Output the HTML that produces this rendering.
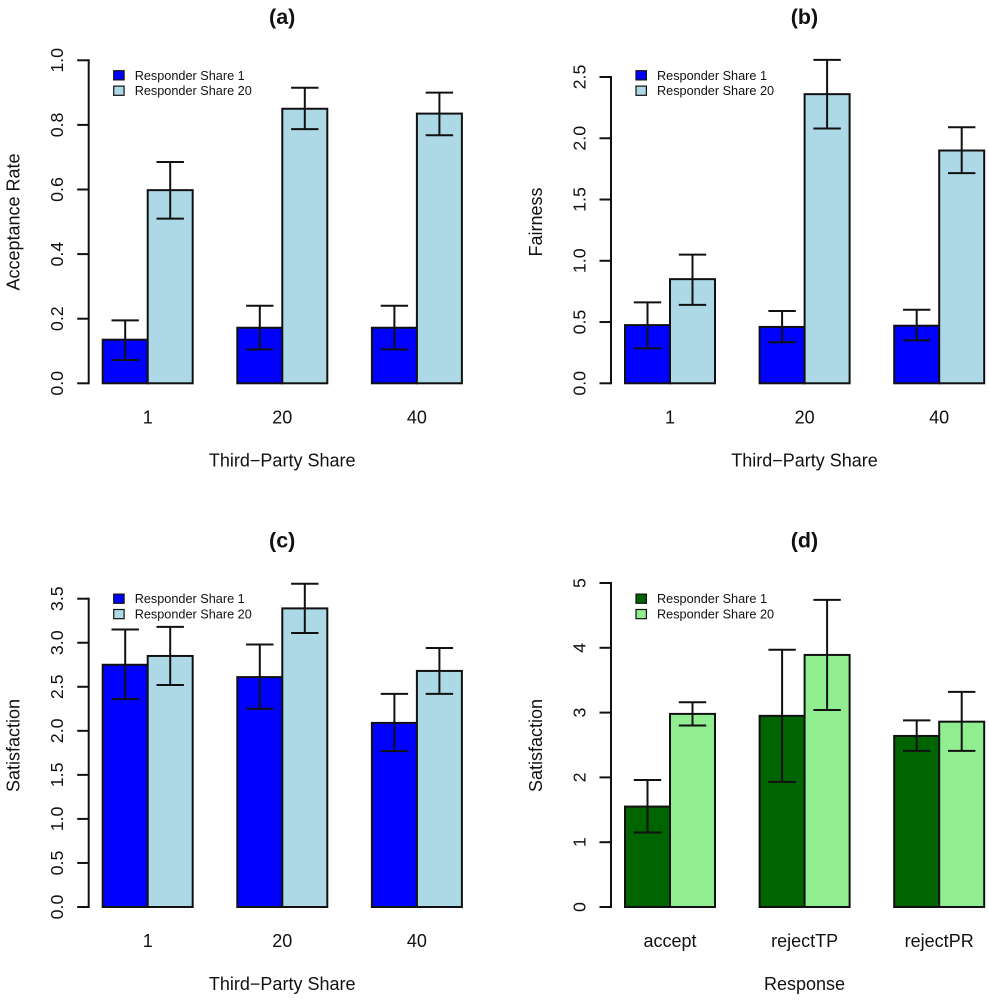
<!DOCTYPE html>
<html>
<head>
<meta charset="utf-8">
<title>Bar charts</title>
<style>
html,body{margin:0;padding:0;background:#fff;}
svg{display:block;}
text{font-family:"Liberation Sans",Arial,sans-serif;fill:#111;}
</style>
</head>
<body>
<svg id="chart" xmlns="http://www.w3.org/2000/svg" width="989" height="1000" viewBox="0 0 989 1000"></svg>
<script>
const thirdPartyCategories = ["1", "20", "40"];
const responseCategories = ["accept", "rejectTP", "rejectPR"];
const legendLabels = ["Responder Share 1", "Responder Share 20"];

const acceptShare1 = [0.135, 0.172, 0.172];
const acceptShare20 = [0.598, 0.85, 0.835];
const acceptShare1Low = [0.072, 0.105, 0.105];
const acceptShare1High = [0.195, 0.24, 0.24];
const acceptShare20Low = [0.51, 0.787, 0.768];
const acceptShare20High = [0.685, 0.915, 0.9];
const acceptTicks = ["0.0", "0.2", "0.4", "0.6", "0.8", "1.0"];

const fairShare1 = [0.475, 0.46, 0.47];
const fairShare20 = [0.85, 2.36, 1.9];
const fairShare1Low = [0.285, 0.335, 0.35];
const fairShare1High = [0.66, 0.59, 0.6];
const fairShare20Low = [0.64, 2.08, 1.715];
const fairShare20High = [1.05, 2.64, 2.09];
const fairTicks = ["0.0", "0.5", "1.0", "1.5", "2.0", "2.5"];

const satThirdShare1 = [2.75, 2.61, 2.09];
const satThirdShare20 = [2.85, 3.39, 2.68];
const satThirdShare1Low = [2.36, 2.25, 1.77];
const satThirdShare1High = [3.15, 2.98, 2.42];
const satThirdShare20Low = [2.52, 3.11, 2.42];
const satThirdShare20High = [3.18, 3.67, 2.94];
const satThirdTicks = ["0.0", "0.5", "1.0", "1.5", "2.0", "2.5", "3.0", "3.5"];

const satRespShare1 = [1.55, 2.95, 2.64];
const satRespShare20 = [2.98, 3.89, 2.86];
const satRespShare1Low = [1.15, 1.93, 2.41];
const satRespShare1High = [1.96, 3.97, 2.88];
const satRespShare20Low = [2.8, 3.04, 2.41];
const satRespShare20High = [3.16, 4.74, 3.32];
const satRespTicks = ["0", "1", "2", "3", "4", "5"];

const svg = document.getElementById('chart');
const NS = 'http://www.w3.org/2000/svg';
const INK = '#111';

function add(parent, tag, attrs) {
  const el = document.createElementNS(NS, tag);
  for (const k in attrs) el.setAttribute(k, attrs[k]);
  parent.appendChild(el);
  return el;
}

function label(parent, str, x, y, size, opts) {
  const o = opts || {};
  const t = add(parent, 'text', {
    x: x, y: y, 'font-size': size,
    'text-anchor': o.anchor || 'middle',
    'font-weight': o.bold ? 'bold' : 'normal'
  });
  if (o.rotate) t.setAttribute('transform', 'rotate(-90 ' + x + ' ' + y + ')');
  t.textContent = str;
  return t;
}

function drawPanel(p) {
  const g = add(svg, 'g', {});
  
  

  const tickValues = p.ticks.map(Number);
  const yMax = tickValues[tickValues.length - 1];
  const yScale = v => p.y0 - (v / yMax) * (p.y0 - p.yTop);
  const barW = 45;
  const groupStep = 134.6;
  const groupX = i => p.x0 + 14 + i * groupStep;
  const center = i => groupX(i) + barW;

  const title = label(g, '(' + p.id + ')', p.x0 + 193.5, p.y0 - 359.5, 21.5, {bold: true});
  
  

  // bars
  [p.s1, p.s2].forEach((series, s) => {
    series.forEach((v, i) => {
      const r = add(g, 'rect', {
        x: groupX(i) + s * barW, y: yScale(v), width: barW, height: p.y0 - yScale(v),
        fill: p.colors[s], stroke: INK, 'stroke-width': 2
      });
      
      
    });
  });

  // error bars
  [[p.s1Low, p.s1High], [p.s2Low, p.s2High]].forEach((pair, s) => {
    pair[0].forEach((lo, i) => {
      const hi = pair[1][i];
      const cx = groupX(i) + s * barW + barW / 2;
      const eg = add(g, 'g', {stroke: INK, 'stroke-width': 2, fill: 'none'});
      
      
      add(eg, 'line', {x1: cx, x2: cx, y1: yScale(lo), y2: yScale(hi)});
      add(eg, 'line', {x1: cx - 13.7, x2: cx + 13.7, y1: yScale(lo), y2: yScale(lo)});
      add(eg, 'line', {x1: cx - 13.7, x2: cx + 13.7, y1: yScale(hi), y2: yScale(hi)});
    });
  });

  // y axis
  const axis = add(g, 'g', {stroke: INK, 'stroke-width': 2, fill: 'none'});
  
  
  add(axis, 'line', {x1: p.x0, x2: p.x0, y1: yScale(0) + 1, y2: yScale(yMax) - 1});
  p.ticks.forEach((t, i) => {
    const y = yScale(tickValues[i]);
    add(axis, 'line', {x1: p.x0 - 11.5, x2: p.x0, y1: y, y2: y});
    const tl = label(g, t, p.x0 - 25.5, y, 17.8, {rotate: true});
    
    
  });

  const yTitle = label(g, p.yLabel, p.x0 - 69, p.titleMid, 18, {rotate: true});
  
  

  // x labels
  p.cats.forEach((c, i) => {
    const tl = label(g, c, center(i), p.y0 + 40, 18);
    
    
  });
  const xTitle = label(g, p.xLabel, p.x0 + 193.5, p.y0 + 83, 18);
  
  

  // legend
  const lg = add(g, 'g', {});
  
  
  legendLabels.forEach((txt, k) => {
    const ly = p.legendY + k * 15.4;
    const sw = add(lg, 'rect', {
      x: p.x0 + 25, y: ly - 4.6, width: 10.4, height: 9.2,
      fill: p.colors[k], stroke: INK, 'stroke-width': 1.2
    });
    
    
    const lt = label(lg, txt, p.x0 + 46, ly + 4.5, 12.7, {anchor: 'start'});
    
    
  });
}

const blues = ['#0000ff', '#add8e6'];
const greens = ['#006400', '#90ee90'];

drawPanel({id: 'a', x0: 88.7, y0: 383.3, yTop: 60.3, titleMid: 222, ticks: acceptTicks, cats: thirdPartyCategories,
  s1: acceptShare1, s2: acceptShare20, s1Low: acceptShare1Low, s1High: acceptShare1High, s2Low: acceptShare20Low, s2High: acceptShare20High,
  colors: blues, yLabel: 'Acceptance Rate', xLabel: 'Third\u2212Party Share', legendY: 75.3});
drawPanel({id: 'b', x0: 611, y0: 383.3, yTop: 77, titleMid: 222, ticks: fairTicks, cats: thirdPartyCategories,
  s1: fairShare1, s2: fairShare20, s1Low: fairShare1Low, s1High: fairShare1High, s2Low: fairShare20Low, s2High: fairShare20High,
  colors: blues, yLabel: 'Fairness', xLabel: 'Third\u2212Party Share', legendY: 75.3});
drawPanel({id: 'c', x0: 88.7, y0: 907, yTop: 598.7, titleMid: 745.5, ticks: satThirdTicks, cats: thirdPartyCategories,
  s1: satThirdShare1, s2: satThirdShare20, s1Low: satThirdShare1Low, s1High: satThirdShare1High, s2Low: satThirdShare20Low, s2High: satThirdShare20High,
  colors: blues, yLabel: 'Satisfaction', xLabel: 'Third\u2212Party Share', legendY: 598.7});
drawPanel({id: 'd', x0: 611, y0: 907, yTop: 583, titleMid: 745.5, ticks: satRespTicks, cats: responseCategories,
  s1: satRespShare1, s2: satRespShare20, s1Low: satRespShare1Low, s1High: satRespShare1High, s2Low: satRespShare20Low, s2High: satRespShare20High,
  colors: greens, yLabel: 'Satisfaction', xLabel: 'Response', legendY: 598.7});
</script>
</body>
</html>
